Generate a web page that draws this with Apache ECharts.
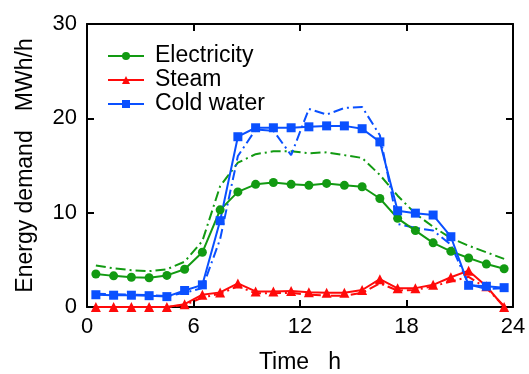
<!DOCTYPE html>
<html>
<head>
<meta charset="utf-8">
<script src="https://cdn.jsdelivr.net/npm/echarts@6/dist/echarts.min.js"></script>
<style>
  html, body { margin: 0; padding: 0; background: #fff; }
  #chart { width: 529px; height: 374px; }
</style>
</head>
<body>
<div id="chart"></div>
<script>
// hour of each sample (half-hour marks)
const hours = [0.5, 1.5, 2.5, 3.5, 4.5, 5.5, 6.5, 7.5, 8.5, 9.5, 10.5, 11.5,
  12.5, 13.5, 14.5, 15.5, 16.5, 17.5, 18.5, 19.5, 20.5, 21.5, 22.5, 23.5]

// solid lines with markers
const electricity = [3.5, 3.3, 3.15, 3.1, 3.35, 4.0, 5.8, 10.3, 12.2, 13.0, 13.2, 13.0,
  12.9, 13.1, 12.9, 12.75, 11.5, 9.4, 8.1, 6.8, 5.9, 5.2, 4.55, 4.05]
const steam = [0, 0, 0, 0, 0, 0.3, 1.3, 1.55, 2.5, 1.65, 1.65, 1.7,
  1.56, 1.52, 1.52, 1.8, 2.95, 1.98, 2.0, 2.35, 3.15, 3.85, 2.2, 0]
const coldWater = [1.3, 1.25, 1.25, 1.2, 1.1, 1.75, 2.35, 9.15, 18.05, 19.0, 19.0, 19.0,
  19.1, 19.2, 19.2, 18.9, 17.5, 10.2, 9.95, 9.75, 7.45, 2.3, 2.2, 2.05]

// dash-dot lines (no markers)
const electricityDash = [4.4, 4.1, 3.9, 3.8, 4.0, 4.8, 7.0, 12.8, 15.3, 16.2, 16.5, 16.5,
  16.3, 16.4, 16.1, 15.8, 14.0, 11.8, 9.9, 8.5, 7.3, 6.5, 5.8, 5.1]
const steamDash = [0, 0, 0, 0, 0, 0.2, 1.0, 1.4, 2.2, 1.45, 1.45, 1.5,
  1.3, 1.2, 1.2, 1.5, 2.5, 1.75, 1.8, 2.2, 2.7, 3.2, 2.0, 0.1]
const coldWaterDash = [1.4, 1.35, 1.3, 1.25, 1.15, 1.5, 2.0, 7.2, 16.0, 18.8, 18.7, 16.1,
  21.0, 20.4, 21.1, 21.2, 18.2, 8.8, 8.4, 8.1, 6.6, 2.4, 1.9, 2.0]

const xTicks = { min: 0, max: 24, interval: 6 }
const yTicks = { min: 0, max: 30, interval: 10 }

const GREEN = '#129a12'
const RED = '#ff0a0a'
const BLUE = '#0a50ff'
const FONT = 'Liberation Sans'
const dashDot = [10, 4, 2, 4]

const pairs = arr => arr.map((v, i) => [hours[i], v])

const solid = (name, data, color, symbol, size) => ({
  name,
  type: 'line',
  data: pairs(data),
  symbol,
  symbolSize: size,
  showSymbol: true,
  clip: false,
  z: 5,
  itemStyle: { color },
  lineStyle: { color, width: 2 },
  emphasis: { disabled: true }
})

const dashed = (name, data, color) => ({
  name,
  type: 'line',
  data: pairs(data),
  symbol: 'none',
  clip: false,
  z: 3,
  itemStyle: { color },
  lineStyle: { color, width: 2, type: dashDot },
  emphasis: { disabled: true }
})

const axisBase = {
  axisLine: { show: true, onZero: false, lineStyle: { color: '#000', width: 2 } },
  axisTick: { show: true, inside: true, length: 7, lineStyle: { color: '#000', width: 2 } },
  splitLine: { show: false }
}

const chart = echarts.init(document.getElementById('chart'))

chart.setOption({
  animation: false,
  textStyle: { fontFamily: FONT },
  // keep the plot box fixed, labels/names are placed by hand
  grid: { left: 87, right: 16, top: 24, bottom: 67, containLabel: false, outerBoundsMode: 'none' },
  legend: {
    data: ['Electricity', 'Steam', 'Cold water'],
    orient: 'vertical',
    left: 107,
    top: 44,
    padding: 0,
    itemWidth: 36,
    itemHeight: 10,
    itemGap: 0,
    textStyle: { fontFamily: FONT, fontSize: 23, color: '#000', lineHeight: 24, padding: [0, 0, 0, 6] }
  },
  xAxis: [
    {
      type: 'value', ...xTicks, position: 'bottom', ...axisBase,
      name: 'Time   h', nameLocation: 'middle', nameGap: 44,
      nameTextStyle: { fontFamily: FONT, fontSize: 23, color: '#000' },
      axisLabel: { fontFamily: FONT, fontSize: 22, color: '#000', margin: 9 }
    },
    {
      type: 'value', ...xTicks, position: 'top', ...axisBase,
      axisLabel: { show: false }
    }
  ],
  yAxis: [
    {
      type: 'value', ...yTicks, position: 'left', ...axisBase,
      name: 'Energy demand   MWh/h', nameLocation: 'middle', nameGap: 50,
      nameTextStyle: { fontFamily: FONT, fontSize: 23, color: '#000' },
      axisLabel: { fontFamily: FONT, fontSize: 22, color: '#000', margin: 10 }
    },
    {
      type: 'value', ...yTicks, position: 'right', ...axisBase,
      axisLabel: { show: false }
    }
  ],
  series: [
    dashed('Electricity plan', electricityDash, GREEN),
    dashed('Steam plan', steamDash, RED),
    dashed('Cold water plan', coldWaterDash, BLUE),
    solid('Electricity', electricity, GREEN, 'circle', 9),
    solid('Steam', steam, RED, 'triangle', 10),
    solid('Cold water', coldWater, BLUE, 'rect', 9)
  ]
})
</script>
</body>
</html>
